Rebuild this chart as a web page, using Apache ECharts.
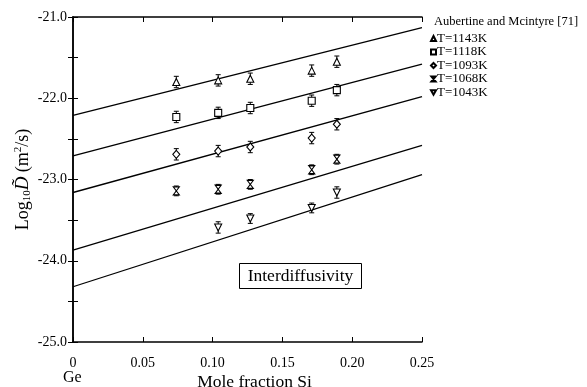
<!DOCTYPE html>
<html>
<head>
<meta charset="utf-8">
<script src="https://cdn.jsdelivr.net/npm/echarts@6/dist/echarts.min.js"></script>
<style>
  html, body { margin: 0; padding: 0; background: #fff; }
  #chart { width: 587px; height: 387px; }
</style>
</head>
<body>
<div id="chart"></div>
<script>
// Ge–Si interdiffusivity vs. Si mole fraction (Aubertine and Mcintyre)
const siFraction = [0.074, 0.104, 0.127, 0.171, 0.189];
const siFraction1043 = [0.104, 0.127, 0.171, 0.189];

const logD1143 = [-21.80, -21.78, -21.76, -21.66, -21.55];
const logD1118 = [-22.23, -22.18, -22.12, -22.03, -21.90];
const logD1093 = [-22.69, -22.65, -22.60, -22.49, -22.32];
const logD1068 = [-23.14, -23.12, -23.06, -22.88, -22.75];
const logD1043 = [-23.59, -23.48, -23.35, -23.16];

const err1143 = [0.07, 0.07, 0.07, 0.07, 0.07];
const err1118 = [0.07, 0.07, 0.07, 0.07, 0.07];
const err1093 = [0.07, 0.07, 0.07, 0.07, 0.07];
const err1068 = [0.06, 0.06, 0.06, 0.06, 0.06];
const err1043 = [0.07, 0.06, 0.06, 0.07];

// straight model lines, evaluated at the ends of the composition range
const fitX = [0, 0.25];
const fit1143 = [-22.21, -21.13];
const fit1118 = [-22.71, -21.58];
const fit1093 = [-23.16, -21.98];
const fit1068 = [-23.87, -22.58];
const fit1043 = [-24.32, -22.94];

const seriesNames = ['T=1143K', 'T=1118K', 'T=1093K', 'T=1068K', 'T=1043K'];

const FONT = "'Liberation Serif', 'Times New Roman', serif";

const groups = [
  { name: seriesNames[0], x: siFraction, y: logD1143, e: err1143, fit: fit1143, symbol: 'triangle', size: 7 },
  { name: seriesNames[1], x: siFraction, y: logD1118, e: err1118, fit: fit1118, symbol: 'rect', size: 7 },
  { name: seriesNames[2], x: siFraction, y: logD1093, e: err1093, fit: fit1093, symbol: 'diamond', size: [7, 8] },
  { name: seriesNames[3], x: siFraction, y: logD1068, e: err1068, fit: fit1068, symbol: 'path://M0,0 L10,0 L0,12 L10,12 Z', size: [6, 8] },
  { name: seriesNames[4], x: siFraction1043, y: logD1043, e: err1043, fit: fit1043, symbol: 'path://M0,0 L10,0 L5,9 Z', size: [7, 7] }
];

function zip(xs, ys) { return xs.map((x, i) => [x, ys[i]]); }

function errorBar(params, api) {
  const x = api.value(0), y = api.value(1), e = api.value(2);
  const top = api.coord([x, y + e]);
  const bot = api.coord([x, y - e]);
  const cap = 2.5;
  const style = { stroke: '#000', lineWidth: 1 };
  return {
    type: 'group',
    children: [
      { type: 'line', shape: { x1: top[0], y1: top[1], x2: bot[0], y2: bot[1] }, style },
      { type: 'line', shape: { x1: top[0] - cap, y1: top[1], x2: top[0] + cap, y2: top[1] }, style },
      { type: 'line', shape: { x1: bot[0] - cap, y1: bot[1], x2: bot[0] + cap, y2: bot[1] }, style }
    ]
  };
}

const series = [];
groups.forEach((g, k) => {
  series.push({
    name: 'fit' + k,
    type: 'line',
    data: zip(fitX, g.fit),
    showSymbol: false,
    symbol: 'none',
    lineStyle: { color: '#000', width: 1.3 },
    silent: true,
    z: 2
  });
  series.push({
    name: 'err' + k,
    type: 'custom',
    renderItem: errorBar,
    data: g.x.map((x, i) => [x, g.y[i], g.e[i]]),
    encode: { x: 0, y: 1 },
    silent: true,
    z: 3
  });
  series.push({
    name: g.name,
    type: 'scatter',
    data: zip(g.x, g.y),
    symbol: g.symbol,
    symbolSize: g.size,
    itemStyle: { color: '#fff', borderColor: '#000', borderWidth: 1.1, opacity: 1 },
    z: 4
  });
});

const axisCommon = {
  axisLine: { show: true, lineStyle: { color: '#000', width: 1.5 } },
  axisTick: { show: true, inside: true, length: 5, lineStyle: { color: '#000', width: 1 } },
  splitLine: { show: false },
  nameMoveOverlap: false
};

const chart = echarts.init(document.getElementById('chart'), null, { renderer: 'canvas' });
chart.setOption({
  animation: false,
  backgroundColor: '#fff',
  textStyle: { fontFamily: FONT },
  grid: { left: 73, right: 165, top: 17, bottom: 45, containLabel: false, outerBoundsMode: 'none' },
  xAxis: [
    Object.assign({}, axisCommon, {
      type: 'value', min: 0, max: 0.25, interval: 0.05, position: 'bottom',
      name: 'Mole fraction Si', nameLocation: 'middle', nameGap: 31,
      nameTextStyle: { fontFamily: FONT, fontSize: 17.5, color: '#000', padding: [0, 0, 0, 14] },
      axisLabel: {
        color: '#000', fontFamily: FONT, fontSize: 14, margin: 14,
        formatter: v => (Math.abs(v) < 1e-9 ? '0' : v.toFixed(2))
      }
    }),
    Object.assign({}, axisCommon, {
      type: 'value', min: 0, max: 0.25, interval: 0.05, position: 'top',
      axisLabel: { show: false }
    })
  ],
  yAxis: [
    Object.assign({}, axisCommon, {
      type: 'value', min: -25, max: -21, interval: 0.5, position: 'left',
      name: '{a|Log}{s|10}{d|D\u0303}{a| (m}{p|2}{a|/s)}',
      nameLocation: 'middle', nameRotate: 90, nameGap: 40,
      nameTextStyle: {
        fontFamily: FONT, fontSize: 18, color: '#000',
        rich: {
          a: { fontFamily: FONT, fontSize: 18, color: '#000' },
          s: { fontFamily: FONT, fontSize: 11, color: '#000', padding: [9, 0, 0, 0] },
          d: { fontFamily: FONT, fontSize: 19, fontStyle: 'italic', color: '#000' },
          p: { fontFamily: FONT, fontSize: 11, color: '#000', padding: [0, 0, 9, 0] }
        }
      },
      axisLabel: {
        color: '#000', fontFamily: FONT, fontSize: 14, margin: 6,
        formatter: v => (Math.abs(v - Math.round(v)) < 1e-9 ? v.toFixed(1) : '')
      }
    }),
    Object.assign({}, axisCommon, {
      type: 'value', min: -25, max: -21, interval: 0.5, position: 'right',
      axisLabel: { show: false }
    })
  ],
  legend: {
    data: seriesNames,
    orient: 'vertical',
    left: 430,
    top: 32,
    itemWidth: 5,
    itemHeight: 5,
    itemGap: 0.5,
    padding: 0,
    textStyle: { fontFamily: FONT, fontSize: 13, color: '#000', lineHeight: 12, padding: [0, 0, 0, -4] },
    selectedMode: false
  },
  graphic: [
    {
      type: 'text', left: 434, top: 15,
      style: { text: 'Aubertine and Mcintyre [71]', font: "12.5px 'Liberation Serif', serif", fill: '#000' }
    },
    {
      type: 'text', left: 63, top: 370,
      style: { text: 'Ge', font: "16px 'Liberation Serif', serif", fill: '#000' }
    },
    {
      type: 'group', left: 239, top: 263,
      children: [
        { type: 'rect', shape: { x: 0, y: 0, width: 122, height: 25 }, style: { fill: '#fff', stroke: '#000', lineWidth: 1 } },
        { type: 'text', x: 61, y: 12.5, style: { text: 'Interdiffusivity', font: "17.5px 'Liberation Serif', serif", fill: '#000', textAlign: 'center', textVerticalAlign: 'middle' } }
      ]
    }
  ],
  series: series
});
</script>
</body>
</html>
